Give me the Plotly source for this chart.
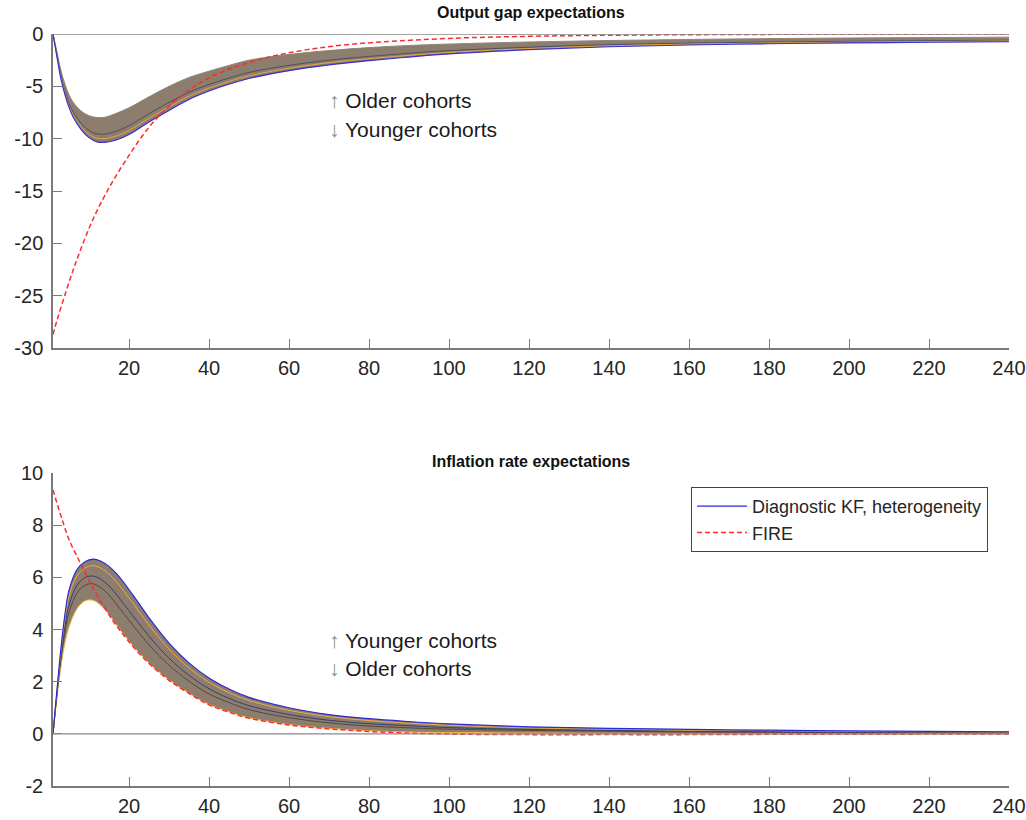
import plotly.graph_objects as go
from plotly.subplots import make_subplots

# ---------------- Output gap expectations (top panel) ----------------
gap_x = [1, 2, 3, 4, 5, 6, 8, 10, 12, 14, 17, 20, 25, 30, 35, 40, 45, 50, 60, 70,
         80, 90, 100, 120, 140, 160, 180, 200, 220, 240]
gap_youngest = [0, -2.2, -4.3, -5.8, -7.0, -7.9, -9.1, -9.9, -10.3, -10.35, -10.1, -9.6,
                -8.4, -7.3, -6.25, -5.45, -4.8, -4.25, -3.5, -2.95, -2.55, -2.2, -1.9,
                -1.5, -1.22, -1.05, -0.93, -0.85, -0.79, -0.74]
gap_young_mid = [0, -2.13, -4.18, -5.65, -6.82, -7.69, -8.84, -9.59, -9.95, -9.99, -9.72,
                 -9.22, -8.04, -6.96, -5.94, -5.17, -4.53, -3.99, -3.27, -2.74, -2.36,
                 -2.04, -1.76, -1.39, -1.13, -0.97, -0.86, -0.78, -0.72, -0.67]
gap_middle = [0, -2.04, -4.04, -5.47, -6.6, -7.44, -8.52, -9.21, -9.54, -9.56, -9.26,
              -8.76, -7.61, -6.54, -5.56, -4.82, -4.21, -3.67, -3.0, -2.5, -2.14, -1.84,
              -1.59, -1.26, -1.02, -0.87, -0.77, -0.70, -0.64, -0.6]
gap_oldest = [0, -1.7, -3.5, -4.8, -5.8, -6.5, -7.35, -7.8, -7.98, -7.95, -7.55, -7.05,
              -6.0, -5.0, -4.15, -3.55, -3.0, -2.5, -1.95, -1.58, -1.3, -1.1, -0.96,
              -0.76, -0.62, -0.52, -0.44, -0.38, -0.34, -0.3]

gap_fire_x = [1, 2, 4, 6, 8, 11, 15, 20, 25, 30, 35, 40, 45, 50, 55, 60, 67, 75, 84,
              100, 120, 140, 170, 200, 240]
gap_fire = [-28.7, -27.35, -24.9, -22.6, -20.5, -17.7, -14.7, -11.6, -8.9, -6.9, -5.35,
            -4.2, -3.35, -2.72, -2.2, -1.8, -1.36, -1.0, -0.74, -0.42, -0.22, -0.12,
            -0.05, -0.02, -0.01]

# ---------------- Inflation rate expectations (bottom panel) ----------------
inf_x = [1, 2, 3, 4, 5, 7, 9, 11, 13, 15, 17, 21, 25, 30, 35, 40, 45, 50, 60, 70,
         80, 90, 100, 120, 140, 160, 180, 200, 220, 240]
inf_youngest = [0, 1.7, 3.3, 4.6, 5.5, 6.3, 6.6, 6.7, 6.62, 6.42, 6.12, 5.32, 4.45, 3.48,
                2.72, 2.14, 1.72, 1.4, 1.0, 0.74, 0.58, 0.47, 0.38, 0.27, 0.21, 0.17,
                0.14, 0.11, 0.095, 0.08]
inf_young_mid = [0, 1.65, 3.19, 4.42, 5.28, 6.06, 6.36, 6.45, 6.35, 6.13, 5.80, 5.01, 4.17,
                 3.25, 2.53, 1.98, 1.58, 1.28, 0.90, 0.66, 0.51, 0.41, 0.33, 0.23, 0.18,
                 0.14, 0.12, 0.09, 0.08, 0.07]
inf_middle = [0, 1.58, 3.01, 4.15, 4.93, 5.69, 5.99, 6.05, 5.92, 5.67, 5.31, 4.52, 3.74,
              2.90, 2.24, 1.73, 1.36, 1.08, 0.74, 0.52, 0.39, 0.31, 0.24, 0.17, 0.13,
              0.10, 0.09, 0.06, 0.06, 0.05]
inf_old_mid = [0, 1.52, 2.88, 3.94, 4.66, 5.4, 5.7, 5.75, 5.6, 5.32, 4.94, 4.16, 3.41,
               2.63, 2.02, 1.53, 1.2, 0.93, 0.62, 0.42, 0.30, 0.23, 0.18, 0.13, 0.10,
               0.07, 0.06, 0.04, 0.04, 0.03]
inf_oldest = [0, 1.4, 2.6, 3.5, 4.1, 4.8, 5.1, 5.12, 4.92, 4.58, 4.15, 3.38, 2.72, 2.07,
              1.56, 1.13, 0.85, 0.62, 0.36, 0.21, 0.12, 0.07, 0.05, 0.03, 0.02, 0.01,
              0.01, 0.0, 0.0, 0.0]

inf_fire_x = [1, 3, 5, 8, 11, 14, 17, 21, 25, 30, 35, 40, 45, 50, 60, 70, 80, 90, 100,
              120, 140, 160, 180, 200, 220, 240]
inf_fire = [9.35, 8.35, 7.45, 6.5, 5.6, 4.8, 4.12, 3.35, 2.7, 2.05, 1.55, 1.11, 0.83,
            0.6, 0.34, 0.19, 0.09, 0.03, -0.01, -0.03, -0.03, -0.03, -0.02, -0.02,
            -0.01, -0.01]

# ---------------- Axis ticks ----------------
x_ticks = [20, 40, 60, 80, 100, 120, 140, 160, 180, 200, 220, 240]
gap_ticks = [0, -5, -10, -15, -20, -25, -30]
inf_ticks = [10, 8, 6, 4, 2, 0, -2]

BAND = "rgb(140,125,111)"
FONT = "Liberation Sans, Arial, sans-serif"
AXIS = "#7a7a7a"

fig = make_subplots(rows=2, cols=1, vertical_spacing=0.166)


def cohort_band(x, low, high, row):
    fig.add_trace(go.Scatter(x=x, y=low, mode="lines", line=dict(width=0, shape="spline"),
                             showlegend=False, hoverinfo="skip"), row=row, col=1)
    fig.add_trace(go.Scatter(x=x, y=high, mode="lines", line=dict(width=0, shape="spline"),
                             fill="tonexty", fillcolor=BAND, showlegend=False,
                             hoverinfo="skip"), row=row, col=1)


def cohort_line(x, y, color, row, width=1.0, name=None):
    fig.add_trace(go.Scatter(x=x, y=y, mode="lines", name=name or "",
                             line=dict(color=color, width=width, shape="spline"),
                             showlegend=name is not None), row=row, col=1)


def fire_line(x, y, row, legend):
    fig.add_trace(go.Scatter(x=x, y=y, mode="lines", name="FIRE",
                             line=dict(color="#ff2a2a", width=1.5, dash="5px,3px",
                                       shape="spline"),
                             showlegend=legend), row=row, col=1)


# top panel
cohort_band(gap_x, gap_youngest, gap_oldest, 1)
cohort_line(gap_x, gap_oldest, "#8f8578", 1)
cohort_line(gap_x, gap_middle, "#4a5262", 1)
cohort_line(gap_x, gap_young_mid, "#e8a640", 1)
cohort_line(gap_x, gap_youngest, "#3a2fd0", 1, width=1.2)
fire_line(gap_fire_x, gap_fire, 1, False)

# bottom panel
cohort_band(inf_x, inf_oldest, inf_youngest, 2)
cohort_line(inf_x, inf_oldest, "#e9b43c", 2)
cohort_line(inf_x, inf_old_mid, "#54483d", 2)
cohort_line(inf_x, inf_middle, "#34406e", 2)
cohort_line(inf_x, inf_young_mid, "#eea84a", 2)
cohort_line(inf_x, inf_youngest, "#2a2ad6", 2, width=1.2,
            name="Diagnostic KF, heterogeneity")
fire_line(inf_fire_x, inf_fire, 2, True)

for r in (1, 2):
    fig.add_hline(y=0, line=dict(color="#8a8a8a", width=1.4), row=r, col=1)

axis_common = dict(showline=True, linecolor=AXIS, linewidth=1.5, ticks="inside",
                   ticklen=9, tickwidth=1.3, tickcolor=AXIS, showgrid=False,
                   zeroline=False, automargin=False,
                   tickfont=dict(family=FONT, size=20, color="#262626"))

for r in (1, 2):
    fig.update_xaxes(range=[1, 240], tickvals=x_ticks, ticklabelstandoff=1,
                     ticktext=[str(v) for v in x_ticks], row=r, col=1, **axis_common)

fig.update_yaxes(range=[-30, 0], tickvals=gap_ticks, ticklabelstandoff=4,
                 ticktext=[str(v) for v in gap_ticks], row=1, col=1, **axis_common)
fig.update_yaxes(range=[-2, 10], tickvals=inf_ticks, ticklabelstandoff=4,
                 ticktext=[str(v) for v in inf_ticks], row=2, col=1, **axis_common)

fig.update_layout(
    width=1026, height=820,
    margin=dict(l=53, r=17, t=34, b=34),
    paper_bgcolor="white", plot_bgcolor="white",
    font=dict(family=FONT, color="#262626"),
    legend=dict(x=0.978, y=0.3976, xanchor="right", yanchor="top", traceorder="normal",
                bgcolor="white", bordercolor="#444", borderwidth=1,
                font=dict(family=FONT, size=18, color="#262626"),
                tracegroupgap=0, itemwidth=50),
)
fig.update_layout(yaxis=dict(domain=[0.5824, 1.0]), yaxis2=dict(domain=[0.0, 0.4162]))

arrow = "<span style='color:#8a8a8a'>{}</span> {}"
ann_font = dict(size=21, family=FONT, color="#1a1a1a")
annots = [
    dict(x=0.5, y=1.029, xref="paper", yref="paper", yanchor="middle",
         text="<b>Output gap expectations</b>",
         showarrow=False, font=dict(size=16, family=FONT, color="#111")),
    dict(x=0.5, y=0.432, xref="paper", yref="paper", yanchor="middle",
         text="<b>Inflation rate expectations</b>",
         showarrow=False, font=dict(size=16, family=FONT, color="#111")),
    dict(x=69.5, y=-6.4, xref="x", yref="y", text=arrow.format("↑", "Older cohorts"),
         xanchor="left", showarrow=False, font=ann_font),
    dict(x=69.5, y=-9.1, xref="x", yref="y", text=arrow.format("↓", "Younger cohorts"),
         xanchor="left", showarrow=False, font=ann_font),
    dict(x=69.5, y=3.56, xref="x2", yref="y2", text=arrow.format("↑", "Younger cohorts"),
         xanchor="left", showarrow=False, font=ann_font),
    dict(x=69.5, y=2.49, xref="x2", yref="y2", text=arrow.format("↓", "Older cohorts"),
         xanchor="left", showarrow=False, font=ann_font),
]
fig.update_layout(annotations=annots)

fig.write_html("out.html")
